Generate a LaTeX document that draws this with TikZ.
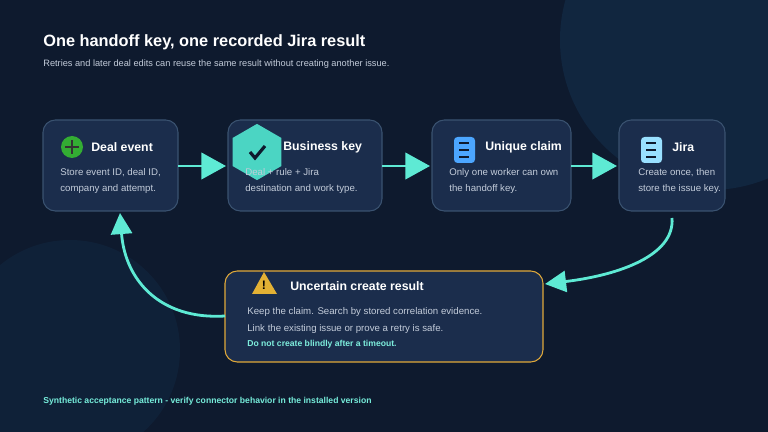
\documentclass[tikz,border=0pt]{standalone}
\usepackage{fontspec}
\setmainfont{Liberation Sans}
\usetikzlibrary{arrows.meta,positioning,shapes.geometric}
\definecolor{bgc}{HTML}{0E1A2E}
\definecolor{blobc}{HTML}{11263F}
\definecolor{boxc}{HTML}{1B2D4C}
\definecolor{edgec}{HTML}{3A5270}
\definecolor{tealc}{HTML}{5EEAD4}
\definecolor{amberc}{HTML}{E0A93A}
\definecolor{subc}{HTML}{C3CCDA}
\tikzset{
  card/.style={draw=edgec,fill=boxc,rounded corners=7pt,line width=0.6pt},
  head/.style={anchor=west,inner sep=0,text=white,font=\bfseries\fontsize{7}{8}\selectfont},
  body/.style={anchor=north west,inner sep=0,align=left,text=subc,font=\fontsize{5.5}{9}\selectfont},
  flow/.style={tealc,line width=1.6pt,-{Triangle[length=14pt,width=15pt]}},
  loop/.style={tealc,line width=1.6pt,-{Triangle[length=12pt,width=12pt]}}
}
\begin{document}
\begin{tikzpicture}[x=0.02cm,y=-0.02cm]
  % background
  \fill[bgc] (0,0) rectangle (768,432);
  \useasboundingbox (0,0) rectangle (768,432);
  \fill[blobc] (710,40) circle (150);
  \fill[blobc,opacity=0.6] (70,350) circle (110);

  \node[anchor=west,inner sep=0,text=white,font=\bfseries\fontsize{9.3}{11}\selectfont] (title) at (43,42) {One handoff key, one recorded Jira result};
  \node[anchor=west,inner sep=0,text=subc,font=\fontsize{5.25}{7}\selectfont] (sub) at (43,64) {Retries and later deal edits can reuse the same result without creating another issue.};

  % cards
  \draw[card] (43,120) rectangle (178,211);
  \coordinate (deal-e) at (178,166); \coordinate (deal-s) at (120,213);
  \draw[card] (228,120) rectangle (382,211);
  \coordinate (key-w) at (226,166); \coordinate (key-e) at (382,166);
  \draw[card] (432,120) rectangle (571,211);
  \coordinate (claim-w) at (430,166); \coordinate (claim-e) at (571,166);
  \draw[card] (619,120) rectangle (725,211);
  \coordinate (jira-w) at (617,166); \coordinate (jira-s) at (672,218);
  \draw[card,draw=amberc] (225,271) rectangle (543,362);
  \coordinate (unc-e) at (545,284); \coordinate (unc-w) at (225,316);

  % icons
  \fill[green!60!black!80!white] (72,147) circle (11);
  \draw[black!80,line width=1.4pt] (65,147) -- (79,147) (72,140) -- (72,154);
  \node[regular polygon,regular polygon sides=6,rotate=30,fill=tealc!80!teal,minimum size=32,inner sep=0] (hex) at (257,152) {};
  \draw[bgc,line width=1.8pt] (250,152) -- (255,158) -- (265,146);
  \fill[blue!50!cyan!70!white,rounded corners=2pt] (454,137) rectangle (475,163);
  \draw[bgc,line width=1pt] (459,143) -- (469,143) (459,150) -- (469,150) (459,157) -- (469,157);
  \fill[blue!30!cyan!40!white,rounded corners=2pt] (641,137) rectangle (662,163);
  \draw[bgc,line width=1pt] (646,143) -- (656,143) (646,150) -- (656,150) (646,157) -- (656,157);
  \fill[amberc!90!yellow] (252,294) -- (264,272) -- (277,294) -- cycle;
  \node[text=black,font=\bfseries\fontsize{7}{7}\selectfont] (bang) at (264,285) {!};

  % texts
  \node[head] (dealh) at (91,147) {Deal event};
  \node[body] (dealb) at (60,168) {Store event ID, deal ID,\\company and attempt.};
  \node[head] (keyh) at (283,147) {Business key};
  \node[body] (keyb) at (245,168) {Deal + rule + Jira\\destination and work type.};
  \node[head] (claimh) at (485,147) {Unique claim};
  \node[body] (claimb) at (449,168) {Only one worker can own\\the handoff key.};
  \node[head] (jirah) at (672,147) {Jira};
  \node[body] (jirab) at (638,168) {Create once, then\\store the issue key.};
  \node[head] (unch) at (290,286) {Uncertain create result};
  \node[body] (uncb1) at (247,307) {Keep the claim. Search by stored correlation evidence.};
  \node[body] (uncb2) at (247,324) {Link the existing issue or prove a retry is safe.};
  \node[anchor=west,inner sep=0,text=tealc!80!white,font=\bfseries\fontsize{4.9}{6}\selectfont] (warn) at (247,344) {Do not create blindly after a timeout.};

  % connectors
  \draw[flow] (deal-e) -- (key-w);
  \draw[flow] (key-e) -- (claim-w);
  \draw[flow] (claim-e) -- (jira-w);
  \draw[loop] (jira-s) .. controls (675,255) and (620,275) .. (unc-e);
  \draw[loop] (unc-w) .. controls (160,320) and (125,280) .. (deal-s);

  \node[anchor=west,inner sep=0,text=tealc!85!white,font=\bfseries\fontsize{4.9}{6}\selectfont] (foot) at (43,401) {Synthetic acceptance pattern - verify connector behavior in the installed version};
\end{tikzpicture}
\end{document}
